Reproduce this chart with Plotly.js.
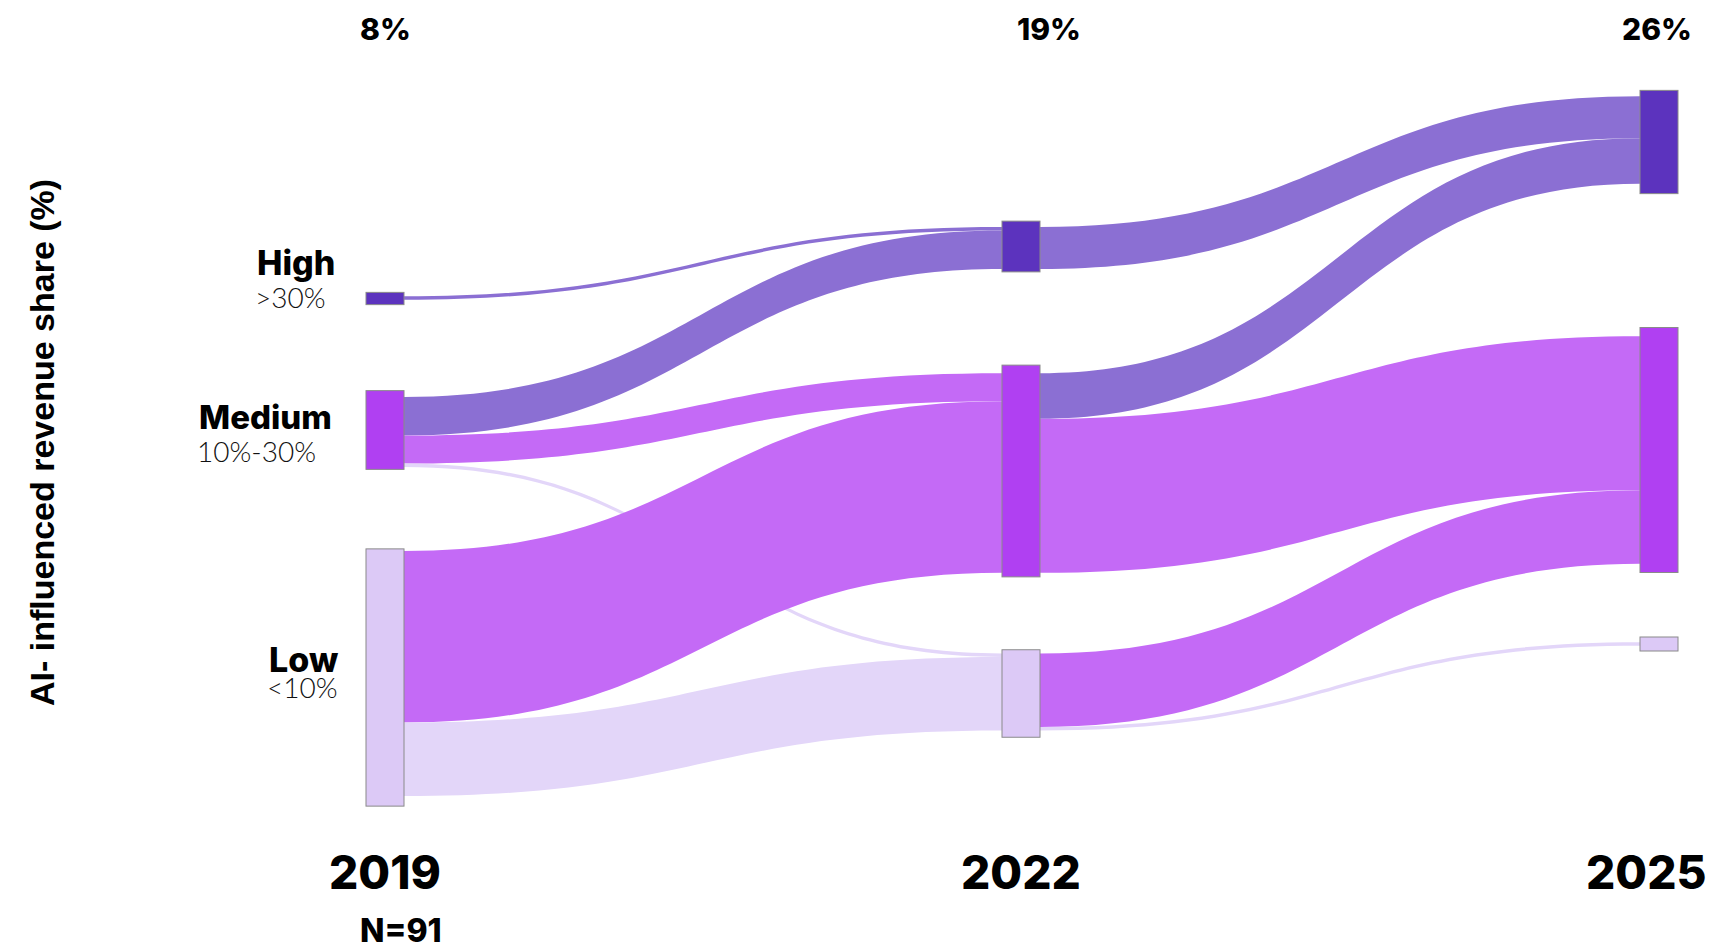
<!DOCTYPE html>
<html>
<head>
<meta charset="utf-8">
<script src="https://cdn.plot.ly/plotly-3.0.1.min.js"></script>
<style>
  html, body { margin: 0; padding: 0; background: #ffffff; }
  #chart { width: 1724px; height: 950px; }
</style>
</head>
<body>
<div id="chart"></div>
<script>
// ---------------- DATA ----------------
const years = ['2019', '2022', '2025'];
const categories = ['High', 'Medium', 'Low'];
const categoryRanges = ['>30%', '10%-30%', '<10%'];
const yearShareLabels = ['8%', '19%', '26%'];
const sampleLabel = 'N=91';
const yAxisTitle = 'AI- influenced revenue share (%)';

// size of each category block per year (share of respondents, %), order High, Medium, Low
const nodeShare2019 = [3.5, 22.5, 73.5];
const nodeShare2022 = [14.5, 60.5, 25];
const nodeShare2025 = [29.5, 70, 4];

// flows between consecutive survey years (number of companies)
const linkSourceNames = ['High 2019', 'Medium 2019', 'Medium 2019', 'Medium 2019', 'Low 2019', 'Low 2019',
                         'High 2022', 'Medium 2022', 'Medium 2022', 'Low 2022', 'Low 2022'];
const linkTargetNames = ['High 2022', 'High 2022', 'Medium 2022', 'Low 2022', 'Medium 2022', 'Low 2022',
                         'High 2025', 'High 2025', 'Medium 2025', 'Medium 2025', 'Low 2025'];
const linkValues = [1, 11, 8, 1, 49, 21, 12, 13, 44, 21, 1];

// ---------------- STYLE / LAYOUT CONFIG ----------------
const W = 1724, H = 950;
const nodeColors = { High: '#5C33BE', Medium: '#B040F2', Low: '#DCC9F6' };
const linkColors = { High: '#8B6FD3', Medium: '#C46AF6', Low: '#E3D6F9' };
const columnCenterX = [385, 1021, 1659];               // px
const blockCenterY = {                                  // px, centre of drawn category blocks
  '2019': [298.5, 430, 677.5],
  '2022': [246.5, 471, 693.5],
  '2025': [142, 450, 644]
};
const flowCenterY = {                                   // px, centre of the flow bundle at each block
  '2019': [298, 432, 673.5],
  '2022': [248, 473, 692],
  '2025': [140, 450, 644]
};
const pxPerUnit = 3.5;
const thickness = 38;
const TRANSPARENT = 'rgba(0,0,0,0)';

// ---------------- BUILD ----------------
const nodeShares = [nodeShare2019, nodeShare2022, nodeShare2025];
const nodeNames = [], flowX = [], flowY = [], nodeHover = [];
years.forEach((yr, yi) => {
  categories.forEach((cat, ci) => {
    nodeNames.push(cat + ' ' + yr);
    flowX.push(columnCenterX[yi] / W);
    flowY.push(flowCenterY[yr][ci] / H);
    nodeHover.push(cat + ' (' + categoryRanges[ci] + '), ' + yr);
  });
});
const idx = name => nodeNames.indexOf(name);
const src = linkSourceNames.map(idx);
const tgt = linkTargetNames.map(idx);
const lcol = linkTargetNames.map(n => linkColors[n.split(' ')[0]]);
const colTotal = linkValues.slice(0, 6).reduce((a, b) => a + b, 0);

const traces = [];
// flows
traces.push({
  type: 'sankey',
  arrangement: 'fixed',
  domain: { x: [0, 1], y: [0, 1] },
  node: {
    label: nodeNames.map(() => ''),
    customdata: nodeHover,
    hovertemplate: '%{customdata}<extra></extra>',
    x: flowX, y: flowY,
    pad: (H - colTotal * pxPerUnit) / 2,
    thickness: thickness,
    color: nodeNames.map(() => TRANSPARENT),
    line: { color: TRANSPARENT, width: 0 }
  },
  link: { source: src, target: tgt, value: linkValues, color: lcol,
          hovertemplate: '%{source.customdata} → %{target.customdata}: %{value}<extra></extra>' },
  textfont: { size: 1, color: TRANSPARENT }
});
// category blocks, one column per year (a helper node far below the canvas carries the column total)
years.forEach((yr, yi) => {
  const shares = nodeShares[yi];
  const total = shares.reduce((a, b) => a + b, 0);
  const xs = categories.map(() => columnCenterX[yi] / W).concat([columnCenterX[yi] / W]);
  const ys = categories.map((c, ci) => blockCenterY[yr][ci] / H).concat([3]);
  traces.push({
    type: 'sankey',
    arrangement: 'fixed',
    domain: { x: [0, 1], y: [0, 1] },
    node: {
      label: categories.map(() => '').concat(['']),
      customdata: categories.map((c, ci) => c + ' (' + categoryRanges[ci] + '), ' + yr + ': ' + shares[ci]).concat(['']),
      hovertemplate: '%{customdata}<extra></extra>',
      x: xs, y: ys,
      pad: (H - total * pxPerUnit) / 2,
      thickness: thickness,
      color: categories.map(c => nodeColors[c]).concat(['#ffffff']),
      line: { color: '#8a8a8a', width: 1 }
    },
    link: { source: [0, 1, 2], target: [3, 3, 3], value: shares, color: [TRANSPARENT, TRANSPARENT, TRANSPARENT],
            hoverinfo: 'skip' },
    textfont: { size: 1, color: TRANSPARENT }
  });
});

const boldFont = (size) => ({ family: 'Inter, Roboto, sans-serif', size: size, color: '#000', weight: 800 });
const lightFont = (size) => ({ family: 'Lato, Inter, sans-serif', size: size, color: '#111', weight: 300 });

const annotations = [];
function addText(text, px, py, font, xanchor) {
  annotations.push({
    text: text, x: px / W, y: 1 - py / H, xref: 'paper', yref: 'paper',
    xanchor: xanchor || 'center', yanchor: 'middle', showarrow: false, font: font
  });
}
const shareX = [385, 1049, 1657];
yearShareLabels.forEach((t, i) => addText(t, shareX[i], 29, boldFont(30)));
const yearX = [385, 1021, 1646];
years.forEach((t, i) => addText(t, yearX[i], 872, boldFont(46)));
addText(sampleLabel, 401, 930, boldFont(32));
const catLabelX = [255, 197, 267];
const catNameY = [262, 417, 659];
const catRangeY = [297, 451, 687];
const catNameSize = [34, 33, 34];
categories.forEach((c, i) => {
  addText(c, catLabelX[i], catNameY[i], boldFont(catNameSize[i]), 'left');
  addText(categoryRanges[i], catLabelX[i] - 2, catRangeY[i], lightFont(28), 'left');
});
annotations.push({
  text: yAxisTitle, x: 42 / W, y: 1 - 443 / H, xref: 'paper', yref: 'paper',
  xanchor: 'center', yanchor: 'middle', textangle: -90, showarrow: false,
  font: { family: 'Liberation Sans, Arial, sans-serif', size: 34, color: '#000', weight: 700 }
});

const layout = {
  width: W, height: H,
  margin: { l: 0, r: 0, t: 0, b: 0 },
  paper_bgcolor: '#ffffff',
  plot_bgcolor: '#ffffff',
  annotations: annotations,
  showlegend: false
};

Plotly.newPlot('chart', traces, layout, { displayModeBar: false });
</script>
</body>
</html>
